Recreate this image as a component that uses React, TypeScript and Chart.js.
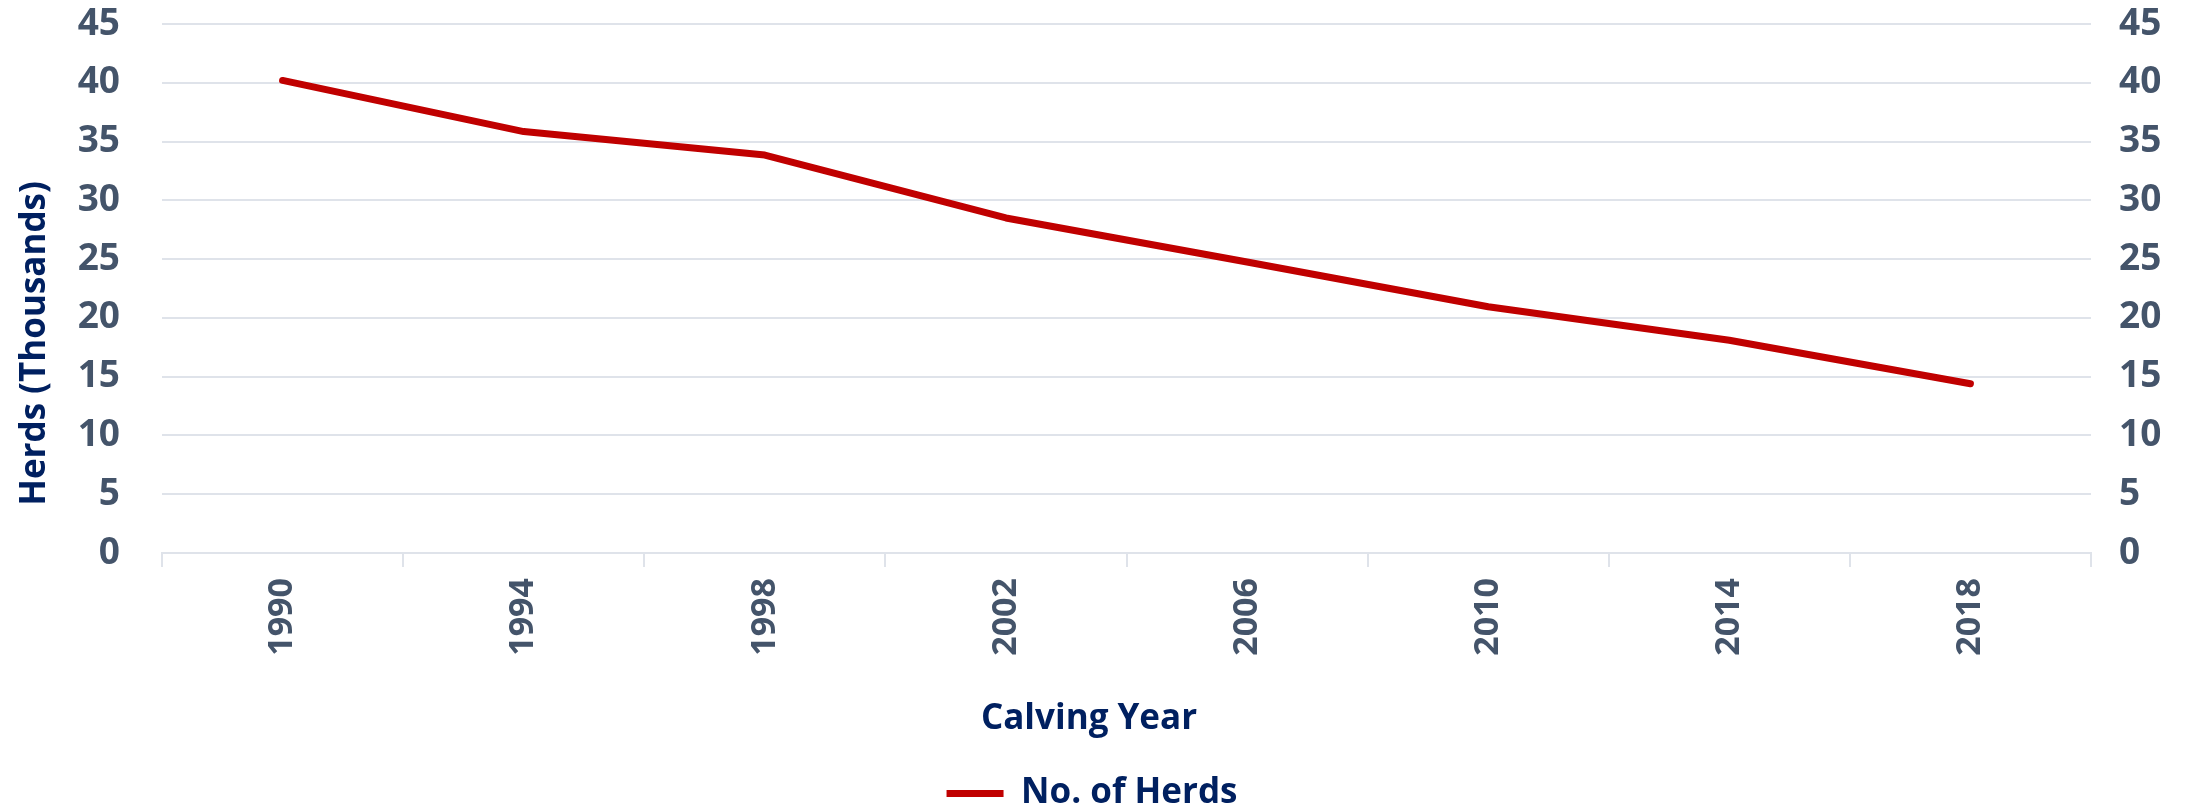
import React, { useEffect, useRef } from "react";
import { Chart, registerables } from "chart.js";

Chart.register(...registerables);

const categories = ["1990", "1994", "1998", "2002", "2006", "2010", "2014", "2018"];
const herdsThousands = [40.2, 35.85, 33.85, 28.5, 24.75, 20.95, 18.1, 14.4];
const seriesLabel = "No. of Herds";
const yAxisTitle = "Herds (Thousands)";
const xAxisTitle = "Calving Year";
const yMin = 0;
const yMax = 45;
const yStep = 5;

const W = 2208;
const H = 812;
const FONT = "'Open Sans', Lato, sans-serif";
const TICK_COLOR = "#44546A";
const TITLE_COLOR = "#002060";
const GRID_COLOR = "#DFE3EA";
const LINE_COLOR = "#C00000";

const titlesPlugin = {
  id: "axisTitles",
  afterDraw(chart: any) {
    const { ctx, chartArea } = chart;
    ctx.save();
    ctx.font = `bold 35px ${FONT}`;
    ctx.fillStyle = TITLE_COLOR;
    ctx.textAlign = "center";
    ctx.textBaseline = "middle";
    ctx.save();
    ctx.translate(35, (chartArea.top + chartArea.bottom + 110) / 2);
    ctx.rotate(-Math.PI / 2);
    ctx.fillText(yAxisTitle, 0, 0);
    ctx.restore();
    ctx.fillText(xAxisTitle, 1089, chartArea.bottom + 166);
    ctx.restore();
  },
};

const noVerticalPadding = (s: any, width: number) => {
  s.width = width;
  s.paddingTop = 0;
  s.paddingBottom = 0;
};

export default function App() {
  const ref = useRef<HTMLCanvasElement | null>(null);

  useEffect(() => {
    if (!ref.current) return;
    const chart = new Chart(ref.current, {
      type: "line",
      data: {
        labels: categories,
        datasets: [
          {
            label: seriesLabel,
            data: herdsThousands,
            borderColor: LINE_COLOR,
            backgroundColor: LINE_COLOR,
            borderWidth: 7,
            pointRadius: 0,
            pointHoverRadius: 0,
            tension: 0,
            borderCapStyle: "round",
            borderJoinStyle: "round",
            fill: false,
            yAxisID: "y",
          },
        ],
      },
      options: {
        animation: false,
        responsive: false,
        devicePixelRatio: 1,
        layout: { padding: { top: 24, left: 0, right: 24, bottom: -9 } },
        plugins: {
          legend: {
            display: true,
            position: "bottom",
            labels: {
              usePointStyle: true,
              pointStyle: "line",
              pointStyleWidth: 57,
              padding: 10,
              color: TITLE_COLOR,
              font: { family: FONT, size: 35, weight: "bold" },
            },
          },
          tooltip: { enabled: false },
        },
        scales: {
          x: {
            type: "category",
            offset: true,
            afterFit: (s: any) => {
              s.height = 213;
            },
            grid: {
              display: true,
              offset: true,
              drawOnChartArea: false,
              drawTicks: true,
              tickLength: 14,
              color: GRID_COLOR,
              lineWidth: 2,
            },
            border: { display: true, color: GRID_COLOR, width: 2 },
            ticks: {
              autoSkip: false,
              minRotation: 90,
              maxRotation: 90,
              padding: 11,
              color: TICK_COLOR,
              font: { family: FONT, size: 34, weight: "bold" },
            },
          },
          y: {
            position: "left",
            min: yMin,
            max: yMax,
            afterFit: (s: any) => noVerticalPadding(s, 162),
            grid: { color: GRID_COLOR, lineWidth: 2, drawTicks: false },
            border: { display: false },
            ticks: {
              stepSize: yStep,
              padding: 42,
              color: TICK_COLOR,
              font: { family: FONT, size: 37, weight: "bold" },
            },
          },
          y2: {
            position: "right",
            min: yMin,
            max: yMax,
            afterFit: (s: any) => noVerticalPadding(s, 93),
            grid: { drawOnChartArea: false, drawTicks: false },
            border: { display: false },
            ticks: {
              stepSize: yStep,
              padding: 28,
              color: TICK_COLOR,
              font: { family: FONT, size: 37, weight: "bold" },
            },
          },
        },
      },
      plugins: [titlesPlugin],
    });
    return () => chart.destroy();
  }, []);

  return (
    <div style={{ position: "fixed", left: 0, top: 0, width: W, height: H, background: "#fff" }}>
      <canvas ref={ref} width={W} height={H} style={{ width: W, height: H, display: "block" }} />
    </div>
  );
}
